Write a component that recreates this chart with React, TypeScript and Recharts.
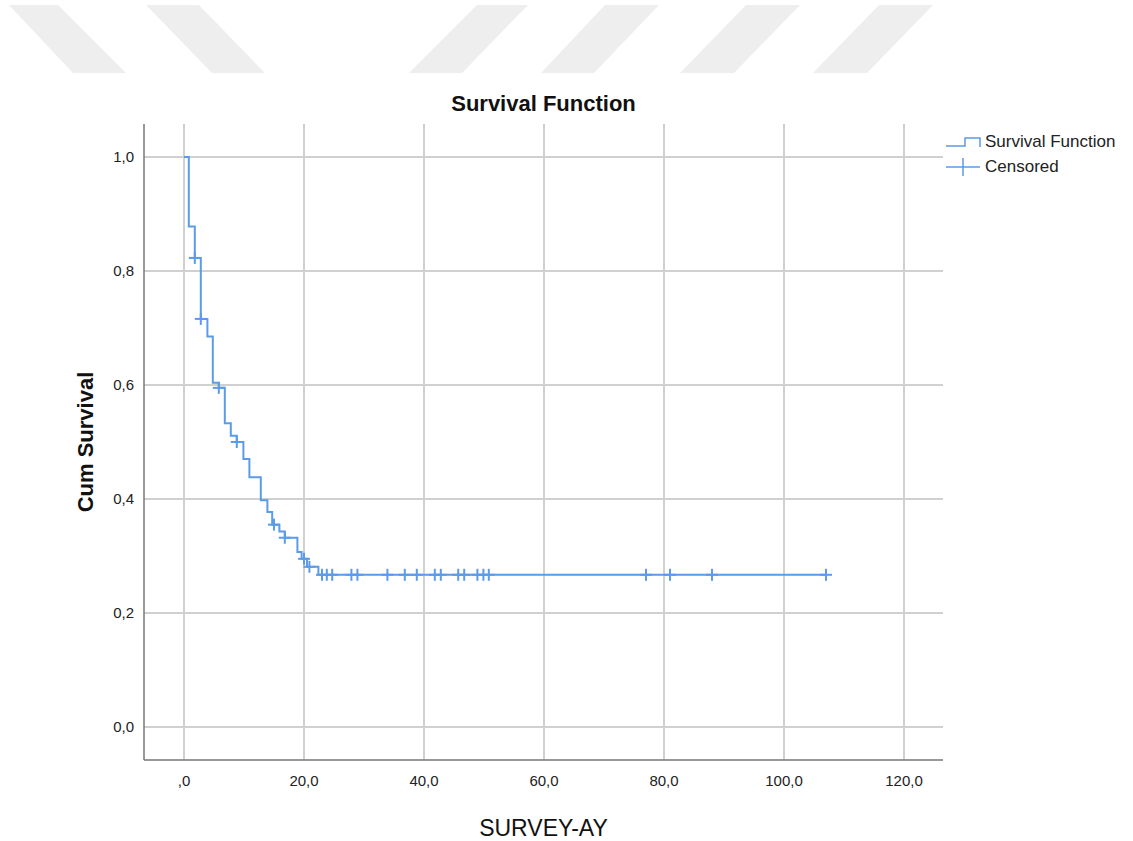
import {
  ComposedChart,
  Line,
  Scatter,
  XAxis,
  YAxis,
  CartesianGrid,
} from "recharts";

// step curve: time (months) and cumulative survival after the event
const stepTimes = [0, 0.8, 1.8, 2.8, 3.9, 4.8, 5.8, 6.8, 7.8, 8.8, 9.9, 10.9, 12.8, 13.9, 14.7, 15.9, 16.8, 18.9, 19.6, 20.5, 22.4, 107];
const stepSurvival = [1.0, 0.878, 0.823, 0.716, 0.685, 0.604, 0.595, 0.533, 0.511, 0.5, 0.47, 0.438, 0.398, 0.377, 0.355, 0.343, 0.332, 0.307, 0.295, 0.281, 0.267, 0.267];

// censored observations
const censorTimes = [1.8, 2.8, 5.8, 8.8, 15, 16.8, 20, 20.9, 23, 23.8, 24.7, 27.9, 28.9, 33.9, 36.8, 38.8, 41.8, 42.8, 45.7, 46.7, 48.9, 49.9, 50.8, 77, 81, 88, 107];
const censorSurvival = [0.823, 0.716, 0.595, 0.5, 0.355, 0.332, 0.295, 0.281, 0.267, 0.267, 0.267, 0.267, 0.267, 0.267, 0.267, 0.267, 0.267, 0.267, 0.267, 0.267, 0.267, 0.267, 0.267, 0.267, 0.267, 0.267, 0.267];

const xTicks = [0, 20, 40, 60, 80, 100, 120];
const yTicks = [0, 0.2, 0.4, 0.6, 0.8, 1.0];

const BLUE = "#5b9be8";
const FONT = "'Liberation Sans', Arial, sans-serif";

const stepData = stepTimes.map((t, i) => ({ t, s: stepSurvival[i] }));
const censorData = censorTimes.map((t, i) => ({ t, s: censorSurvival[i] }));

const fmt = (v: number) => {
  const s = v.toFixed(1).replace(".", ",");
  return s === "0,0" ? ",0" : s;
};
const fmtY = (v: number) => v.toFixed(1).replace(".", ",");

const Cross = (props: any) => {
  const { cx, cy } = props;
  if (cx == null || cy == null) return null;
  return (
    <g stroke={BLUE} strokeWidth={2}>
      <line x1={cx - 6} y1={cy} x2={cx + 6} y2={cy} />
      <line x1={cx} y1={cy - 6} x2={cx} y2={cy + 6} />
    </g>
  );
};

const LegendBox = () => (
  <div
    style={{
      position: "absolute",
      left: 946,
      top: 129,
      fontFamily: FONT,
      fontSize: 17,
      color: "#222",
      lineHeight: "25px",
    }}
  >
    <div style={{ display: "flex", alignItems: "center" }}>
      <svg width={39} height={20}>
        <polyline points="0,14 19,14 19,6 34,6 34,15" fill="none" stroke={BLUE} strokeWidth={1.5} />
      </svg>
      <span>Survival Function</span>
    </div>
    <div style={{ display: "flex", alignItems: "center" }}>
      <svg width={39} height={20}>
        <line x1={0} y1={10} x2={34} y2={10} stroke={BLUE} strokeWidth={1.5} />
        <line x1={17} y1={1} x2={17} y2={19} stroke={BLUE} strokeWidth={1.5} />
      </svg>
      <span>Censored</span>
    </div>
  </div>
);

const Watermark = () => (
  <svg width={1133} height={80} style={{ position: "absolute", left: 0, top: 0 }}>
    <g fill="#eeeeee">
      <polygon points="9,5 58,5 126,73 73,73" />
      <polygon points="146,5 199,5 265,73 212,73" />
      <polygon points="477,5 528,5 462,73 409,73" />
      <polygon points="605,5 659,5 594,73 541,73" />
      <polygon points="746,5 800,5 734,73 680,73" />
      <polygon points="879,5 933,5 867,73 813,73" />
    </g>
  </svg>
);

export default function App() {
  return (
    <div style={{ position: "absolute", left: 0, top: 0, width: 1133, height: 841, background: "#fff" }}>
      <Watermark />
      <div
        style={{
          position: "absolute",
          left: 144,
          width: 799,
          top: 91,
          textAlign: "center",
          fontFamily: FONT,
          fontWeight: "bold",
          fontSize: 22,
          color: "#111",
        }}
      >
        Survival Function
      </div>
      <ComposedChart
        width={1133}
        height={841}
        margin={{ top: 124, right: 190, left: 0, bottom: 0 }}
        style={{ position: "absolute", left: 0, top: 0 }}
      >
        <CartesianGrid stroke="#d0d0d0" strokeWidth={2} syncWithTicks />
        <XAxis
          type="number"
          dataKey="t"
          domain={[-6.667, 126.5]}
          ticks={xTicks}
          allowDataOverflow
          height={81}
          tickFormatter={fmt}
          tickLine={false}
          tickSize={0}
          tickMargin={15}
          axisLine={{ stroke: "#777", strokeWidth: 1.5 }}
          tick={{ fill: "#222", fontSize: 15, fontFamily: FONT }}
          label={{
            content: ({ viewBox }: any) => (
              <text
                x={viewBox.x + viewBox.width / 2}
                y={836}
                textAnchor="middle"
                fontFamily={FONT}
                fontSize={23}
                fill="#111"
              >
                SURVEY-AY
              </text>
            ),
          }}
        />
        <YAxis
          type="number"
          dataKey="s"
          domain={[-0.058, 1.058]}
          ticks={yTicks}
          allowDataOverflow
          width={144}
          tickFormatter={fmtY}
          tickLine={false}
          tickSize={0}
          tickMargin={10}
          axisLine={{ stroke: "#777", strokeWidth: 1.5 }}
          tick={{ fill: "#222", fontSize: 15, fontFamily: FONT }}
          label={{
            content: ({ viewBox }: any) => {
              const cy = viewBox.y + viewBox.height / 2;
              return (
                <text
                  x={85}
                  y={cy}
                  transform={`rotate(-90, 85, ${cy})`}
                  textAnchor="middle"
                  dominantBaseline="central"
                  fontFamily={FONT}
                  fontWeight="bold"
                  fontSize={22}
                  fill="#111"
                >
                  Cum Survival
                </text>
              );
            },
          }}
        />
        <Line
          data={stepData}
          dataKey="s"
          type="stepAfter"
          stroke={BLUE}
          strokeWidth={2}
          dot={false}
          isAnimationActive={false}
          name="Survival Function"
        />
        <Scatter
          data={censorData}
          dataKey="s"
          shape={<Cross />}
          isAnimationActive={false}
          name="Censored"
        />
      </ComposedChart>
      <LegendBox />
    </div>
  );
}
